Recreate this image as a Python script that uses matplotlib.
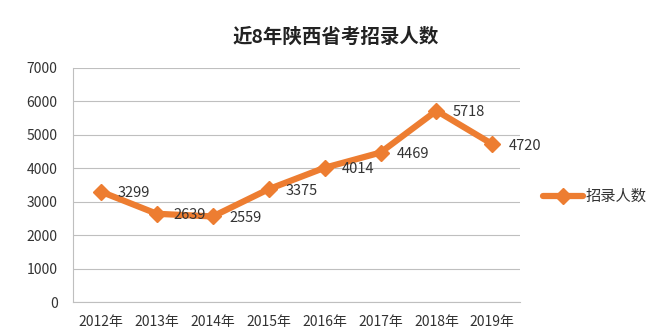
import matplotlib.pyplot as plt

plt.rcParams['font.family'] = ['Noto Sans CJK SC', 'DejaVu Sans']

years = ['2012年', '2013年', '2014年', '2015年', '2016年', '2017年', '2018年', '2019年']
counts = [3299, 2639, 2559, 3375, 4014, 4469, 5718, 4720]
series_name = '招录人数'

orange = '#ED7D31'
text_color = '#333333'

fig = plt.figure(figsize=(6.54, 3.36), dpi=100)
ax = fig.add_axes([0.1116, 0.101, 0.684, 0.697])

x = range(len(years))
ax.plot(x, counts, color=orange, lw=4.5, marker='D', ms=8,
        solid_capstyle='round', solid_joinstyle='round', label=series_name)

for xi, v in zip(x, counts):
    ax.annotate(str(v), (xi, v), xytext=(12, -1), textcoords='offset points',
                fontsize=10.5, color=text_color, va='center', ha='left')

ax.set_xlim(-0.5, len(years) - 0.5)
ax.set_ylim(0, 7000)
ax.set_yticks(range(0, 7001, 1000))
ax.set_xticks(list(x))
ax.set_xticklabels(years)
ax.tick_params(axis='both', length=0, colors=text_color)
ax.tick_params(axis='y', pad=11, labelsize=10)
ax.tick_params(axis='x', pad=9, labelsize=10)
ax.grid(axis='y', color='#BFBFBF', lw=0.8)
ax.set_axisbelow(True)
for side in ['top', 'right']:
    ax.spines[side].set_visible(False)
for side in ['left', 'bottom']:
    ax.spines[side].set_color('#BFBFBF')
    ax.spines[side].set_linewidth(0.8)

fig.text(0.514, 0.89, '近8年陕西省考招录人数', ha='center', va='center',
         fontsize=14, fontweight='bold', color='#222222')

ax.legend(loc='center left', bbox_to_anchor=(1.02, 0.45), frameon=False,
          fontsize=11, handlelength=2.6, handletextpad=0.2,
          labelcolor=text_color)

fig.savefig('out.png', dpi=100)
